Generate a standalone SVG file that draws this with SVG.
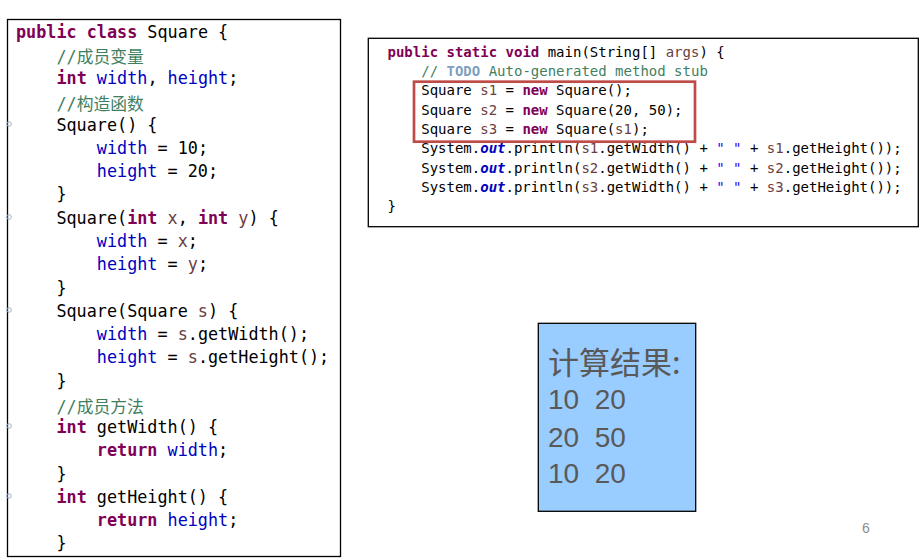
<svg xmlns="http://www.w3.org/2000/svg" width="924" height="558" viewBox="0 0 924 558">
<style>
.code{font-family:"DejaVu Sans Mono","Noto Sans CJK SC",monospace;fill:#000;white-space:pre}
.l{font-size:16.8px}
.r{font-size:14px}
.k{fill:#7F0055;font-weight:bold}
.f{fill:#0000C0}
.v{fill:#6A3E3E}
.c{fill:#3F7F5F}
.cj{font-family:"Noto Sans CJK SC",sans-serif}
.t{fill:#7F9FBF;font-weight:bold}
.s{fill:#2A00FF}
.o{fill:#0000C0;font-weight:bold;font-style:italic}
.box{fill:#fff;stroke:#000;stroke-width:1.3}
.fold{fill:none;stroke:#9DB3CC;stroke-width:1}
.res{fill:#595959}
</style>
<g id="class-code">
<rect class="box" x="7.5" y="19.5" width="333" height="537"/>
<circle class="fold" cx="9" cy="124" r="2.3"/>
<circle class="fold" cx="9" cy="217" r="2.3"/>
<circle class="fold" cx="9" cy="310" r="2.3"/>
<circle class="fold" cx="9" cy="426" r="2.3"/>
<circle class="fold" cx="9" cy="496" r="2.3"/>
<text class="code l" xml:space="preserve">
<tspan x="16" y="37.5"><tspan class="k">public</tspan> <tspan class="k">class</tspan> Square {</tspan>
<tspan x="16" y="63.3" class="c">    //<tspan class="cj">成员变量</tspan></tspan>
<tspan x="16" y="84">    <tspan class="k">int</tspan> <tspan class="f">width</tspan>, <tspan class="f">height</tspan>;</tspan>
<tspan x="16" y="110" class="c">    //<tspan class="cj">构造函数</tspan></tspan>
<tspan x="16" y="130.6">    Square() {</tspan>
<tspan x="16" y="153.9">        <tspan class="f">width</tspan> = 10;</tspan>
<tspan x="16" y="177.1">        <tspan class="f">height</tspan> = 20;</tspan>
<tspan x="16" y="200.4">    }</tspan>
<tspan x="16" y="223.7">    Square(<tspan class="k">int</tspan> <tspan class="v">x</tspan>, <tspan class="k">int</tspan> <tspan class="v">y</tspan>) {</tspan>
<tspan x="16" y="247">        <tspan class="f">width</tspan> = <tspan class="v">x</tspan>;</tspan>
<tspan x="16" y="270.2">        <tspan class="f">height</tspan> = <tspan class="v">y</tspan>;</tspan>
<tspan x="16" y="293.5">    }</tspan>
<tspan x="16" y="316.7">    Square(Square <tspan class="v">s</tspan>) {</tspan>
<tspan x="16" y="340">        <tspan class="f">width</tspan> = <tspan class="v">s</tspan>.getWidth();</tspan>
<tspan x="16" y="363.3">        <tspan class="f">height</tspan> = <tspan class="v">s</tspan>.getHeight();</tspan>
<tspan x="16" y="386.5">    }</tspan>
<tspan x="16" y="413" class="c">    //<tspan class="cj">成员方法</tspan></tspan>
<tspan x="16" y="433.1">    <tspan class="k">int</tspan> getWidth() {</tspan>
<tspan x="16" y="456.4">        <tspan class="k">return</tspan> <tspan class="f">width</tspan>;</tspan>
<tspan x="16" y="479.6">    }</tspan>
<tspan x="16" y="502.9">    <tspan class="k">int</tspan> getHeight() {</tspan>
<tspan x="16" y="526.2">        <tspan class="k">return</tspan> <tspan class="f">height</tspan>;</tspan>
<tspan x="16" y="549.4">    }</tspan>
</text>
</g>
<g id="main-code">
<rect class="box" x="368.3" y="38.3" width="550" height="188.4"/>
<text class="code r" xml:space="preserve">
<tspan x="387.5" y="56.7"><tspan class="k">public</tspan> <tspan class="k">static</tspan> <tspan class="k">void</tspan> main(String[] <tspan class="v">args</tspan>) {</tspan>
<tspan x="387.5" y="76" class="c">    // <tspan class="t">TODO</tspan> Auto-generated method stub</tspan>
<tspan x="387.5" y="95.3">    Square <tspan class="v">s1</tspan> = <tspan class="k">new</tspan> Square();</tspan>
<tspan x="387.5" y="114.6">    Square <tspan class="v">s2</tspan> = <tspan class="k">new</tspan> Square(20, 50);</tspan>
<tspan x="387.5" y="133.9">    Square <tspan class="v">s3</tspan> = <tspan class="k">new</tspan> Square(<tspan class="v">s1</tspan>);</tspan>
<tspan x="387.5" y="153.2">    System.<tspan class="o">out</tspan>.println(<tspan class="v">s1</tspan>.getWidth() + <tspan class="s">" "</tspan> + <tspan class="v">s1</tspan>.getHeight());</tspan>
<tspan x="387.5" y="172.5">    System.<tspan class="o">out</tspan>.println(<tspan class="v">s2</tspan>.getWidth() + <tspan class="s">" "</tspan> + <tspan class="v">s2</tspan>.getHeight());</tspan>
<tspan x="387.5" y="191.8">    System.<tspan class="o">out</tspan>.println(<tspan class="v">s3</tspan>.getWidth() + <tspan class="s">" "</tspan> + <tspan class="v">s3</tspan>.getHeight());</tspan>
<tspan x="387.5" y="211.1">}</tspan>
</text>
<rect x="414" y="81.7" width="281" height="60" fill="none" stroke="#BE4B48" stroke-width="2.7"/>
</g>
<g id="result">
<rect x="538.3" y="323.3" width="157.4" height="188" fill="#99CCFF" stroke="#000" stroke-width="1.3"/>
<text class="res" x="548" y="374" font-family="Noto Sans CJK SC, sans-serif" font-size="31">计算结果:</text>
<text class="res" font-family="Liberation Sans, sans-serif" font-size="28" xml:space="preserve"><tspan x="548" y="409">10  20</tspan><tspan x="548" y="446.7">20  50</tspan><tspan x="548" y="483.3">10  20</tspan></text>
</g>
<g id="page-number">
<text x="862" y="533" font-family="Liberation Sans, sans-serif" font-size="14" fill="#8C8C8C">6</text>
</g>
</svg>
